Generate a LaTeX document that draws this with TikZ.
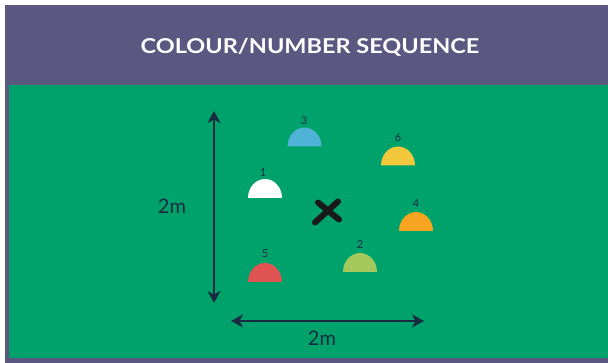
\documentclass[tikz,border=0pt]{standalone}
\usepackage{fontspec}
\setmainfont{Lato}
\usetikzlibrary{arrows.meta,calc}
\definecolor{hdr}{HTML}{5A5880}
\definecolor{field}{HTML}{00A26B}
\definecolor{ink}{HTML}{1A2B3F}
\definecolor{conewhite}{HTML}{FFFFFF}
\definecolor{coneblue}{HTML}{4FB3D8}
\definecolor{coneyellow}{HTML}{F4C83C}
\definecolor{coneorange}{HTML}{F7A521}
\definecolor{conegreen}{HTML}{A3C85B}
\definecolor{conered}{HTML}{E05353}
\tikzset{
  cone/.style={fill=#1},
  conelabel/.style={text=ink, font=\fontsize{11}{11}\selectfont, inner sep=0pt, anchor=base},
  dim/.style={draw=ink, line width=1.5pt, {Stealth[length=12pt,width=13pt,inset=3.5pt]}-{Stealth[length=12pt,width=13pt,inset=3.5pt]}},
  dimlabel/.style={text=ink, font=\fontsize{20}{20}\selectfont, inner sep=0pt},
}
\newcommand{\cone}[4]{% name, color, cx, base y
  \fill[cone=#2] (#3-17,#4) arc[start angle=180,end angle=0,x radius=17pt,y radius=19pt] -- cycle;
}
\begin{document}
\begin{tikzpicture}[x=1pt,y=-1pt]
\useasboundingbox (0,0) rectangle (608,363);
\fill[white] (0,0) rectangle (608,363);
\fill[hdr] (5,5) rectangle (608,363);
\fill[field] (9,85) rectangle (608,358.5);
\node[text=white, font=\fontsize{20.5}{20.5}\selectfont\bfseries, inner sep=0pt, xscale=1.145] (title) at (310,47) {COLOUR/NUMBER SEQUENCE};
% cones
\cone{c3}{coneblue}{304.5}{146.5}
\cone{c6}{coneyellow}{398}{165.5}
\cone{c1}{conewhite}{265}{198}
\cone{c4}{coneorange}{416}{231}
\cone{c2}{conegreen}{360}{272}
\cone{c5}{conered}{265}{282}
\node[conelabel] (l3) at (304,125) {3};
\node[conelabel] (l6) at (398,142) {6};
\node[conelabel] (l1) at (263,177) {1};
\node[conelabel] (l4) at (416,208) {4};
\node[conelabel] (l2) at (360,249) {2};
\node[conelabel] (l5) at (265,258) {5};
% X marker
\coordinate (xc) at (327,211.5);
\draw[black!90, line width=6pt, line cap=round] ($(xc)+(-12,11)$) -- ($(xc)+(11,-10)$);
\draw[black!90, line width=6pt, line cap=round] ($(xc)+(-9,-9)$) -- ($(xc)+(12,8)$);
% dimensions
\coordinate (vt) at (214,111);
\coordinate (vb) at (214,303);
\draw[dim] (vt) -- (vb);
\node[dimlabel] (vlabel) at (172,206) {2m};
\coordinate (hl) at (231,321);
\coordinate (hr) at (424,321);
\draw[dim] (hl) -- (hr);
\node[dimlabel] (hlabel) at (322,338) {2m};
\end{tikzpicture}
\end{document}
